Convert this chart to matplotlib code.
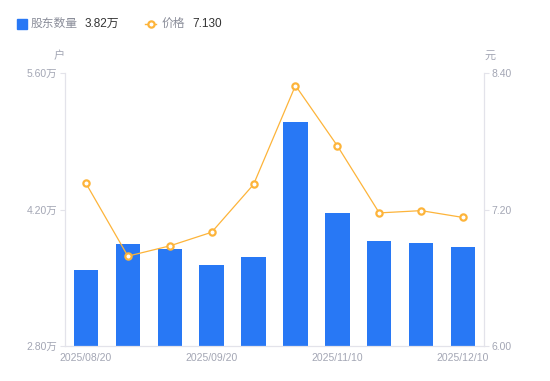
import numpy as np
import matplotlib.pyplot as plt
from matplotlib.patches import Rectangle
from matplotlib.lines import Line2D

plt.rcParams['font.family'] = ['Liberation Sans', 'Noto Sans CJK SC', 'DejaVu Sans']

# datos
fechas = ['2025/08/20', '2025/08/31', '2025/09/10', '2025/09/20', '2025/09/30',
          '2025/10/31', '2025/11/10', '2025/11/20', '2025/11/30', '2025/12/10']
accionistas = [3.58, 3.85, 3.79, 3.63, 3.71, 5.10, 4.16, 3.88, 3.86, 3.82]  # 万户
precio = [7.43, 6.79, 6.88, 7.00, 7.42, 8.29, 7.76, 7.17, 7.19, 7.13]
ticks_izq = [2.80, 4.20, 5.60]
ticks_der = [6.00, 7.20, 8.40]
idx_etiquetas = [0, 3, 6, 9]

azul = '#2878F5'
naranja = '#FDB43A'
gris_eje = '#E3E3EA'
gris_txt = '#A3A6B4'

fig = plt.figure(figsize=(5.5, 3.81), dpi=100)
ax = fig.add_axes([65/550, 35/381, 419/550, 273/381])
ax2 = ax.twinx()

x = np.arange(len(fechas))
ax.bar(x, accionistas, width=0.58, color=azul, zorder=2)
ax.set_xlim(-0.5, len(fechas) - 0.5)
ax.set_ylim(ticks_izq[0], ticks_izq[-1])
ax.set_yticks(ticks_izq)
ax.set_yticklabels([f'{v:.2f}万' for v in ticks_izq])
ax.set_xticks([x[i] for i in idx_etiquetas])
ax.set_xticklabels([fechas[i] for i in idx_etiquetas])

ax2.plot(x, precio, color=naranja, lw=0.9, marker='o', ms=4.5,
         mfc='white', mec=naranja, mew=1.6, zorder=3)
ax2.set_ylim(ticks_der[0], ticks_der[-1])
ax2.set_yticks(ticks_der)
ax2.set_yticklabels([f'{v:.2f}' for v in ticks_der])

for a in (ax, ax2):
    for s in a.spines.values():
        s.set_visible(False)
    a.tick_params(colors=gris_eje, labelcolor=gris_txt, labelsize=7.5, width=0.8)
ax.spines['left'].set_visible(True)
ax.spines['bottom'].set_visible(True)
ax2.spines['right'].set_visible(True)
for s in (ax.spines['left'], ax.spines['bottom'], ax2.spines['right']):
    s.set_color(gris_eje)
    s.set_linewidth(0.9)
ax.tick_params(axis='x', length=0, pad=5)
ax.tick_params(axis='y', length=3.5, pad=2)
ax2.tick_params(axis='y', length=3.5, pad=2)

# unidades
fig.text(59/550, 1 - 56/381, '户', color=gris_txt, fontsize=8, ha='center', va='center')
fig.text(490/550, 1 - 56/381, '元', color=gris_txt, fontsize=8, ha='center', va='center')

# leyenda
yl = 1 - 24/381
fig.add_artist(Rectangle((17/550, 1 - 29/381), 10/550, 10/381, color=azul,
                         transform=fig.transFigure))
fig.text(31/550, yl, '股东数量', color='#8A8D99', fontsize=8.5, va='center')
fig.text(85/550, yl, f'{accionistas[-1]:.2f}万', color='#333333', fontsize=8.5, va='center')
fig.add_artist(Line2D([145/550, 156/550], [yl, yl], color=naranja, lw=1,
                      marker='o', markevery=[0], ms=0, transform=fig.transFigure))
fig.add_artist(Line2D([150.5/550], [yl], color=naranja, marker='o', ms=4.5,
                      mfc='white', mew=1.6, transform=fig.transFigure))
fig.text(162/550, yl, '价格', color='#8A8D99', fontsize=8.5, va='center')
fig.text(192/550, yl, f'{precio[-1]:.3f}', color='#333333', fontsize=8.5, va='center')

plt.savefig('out.png', dpi=100)
